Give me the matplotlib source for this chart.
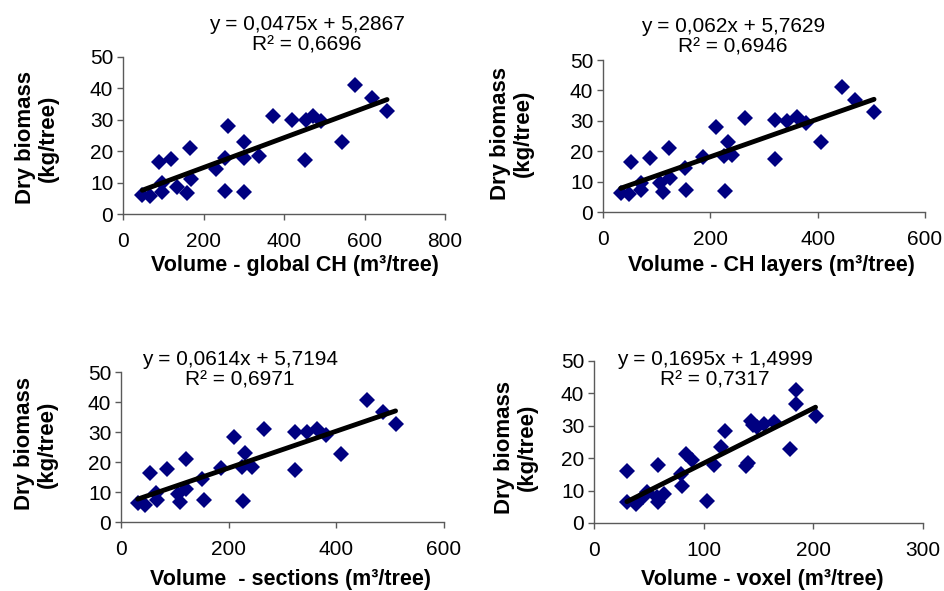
import matplotlib
matplotlib.use("Agg")
import matplotlib.pyplot as plt
import numpy as np

plt.rcParams['font.family'] = ['Liberation Sans', 'DejaVu Sans']

# ---- data ----
x_global = [48, 66, 96, 98, 90, 120, 135, 158, 169, 166, 231, 253, 253, 262, 301, 301, 300, 337,
            373, 420, 452, 455, 471, 492, 544, 577, 618, 656]
y_global = [6.1, 5.7, 7.1, 9.8, 16.5, 17.6, 8.7, 6.6, 11.1, 21.0, 14.3, 17.8, 7.3, 28.1, 17.8, 6.9, 22.9, 18.6,
            31.2, 30.0, 17.3, 30.0, 31.1, 29.6, 22.8, 41.0, 36.9, 32.7]

x_layers = [33, 48, 71, 71, 52, 87, 106, 112, 125, 123, 153, 154, 187, 211, 227, 226, 233, 241,
            265, 321, 321, 342, 362, 378, 407, 445, 470, 505]
y_layers = [6.1, 5.9, 7.2, 9.7, 16.5, 17.8, 9.4, 6.7, 11.1, 21.2, 14.5, 7.4, 18.2, 28.1, 7.0, 18.4, 23.1, 18.7,
            31.0, 30.3, 17.5, 30.0, 31.2, 29.4, 22.9, 41.0, 36.9, 32.8]

x_sections = [31, 44, 67, 65, 54, 85, 105, 110, 121, 120, 150, 155, 186, 210, 227, 225, 231, 244,
              266, 323, 323, 346, 364, 380, 408, 457, 486, 510]
y_sections = [6.2, 5.8, 7.3, 9.8, 16.4, 17.7, 9.5, 6.7, 11.1, 21.0, 14.4, 7.3, 17.9, 28.3, 6.9, 18.3, 22.9, 18.5,
              31.1, 30.0, 17.3, 30.0, 31.1, 29.1, 22.8, 40.6, 36.8, 32.7]

x_voxel = [30, 38, 45, 48, 30, 58, 57, 64, 80, 79, 84, 89, 103, 109, 116, 119, 139, 140,
           143, 145, 149, 155, 164, 179, 184, 184, 202, 58]
y_voxel = [6.6, 5.9, 7.9, 9.5, 16.2, 18.0, 8.1, 9.0, 11.5, 15.0, 21.4, 19.3, 6.9, 18.0, 23.4, 28.3, 17.7, 18.5,
           31.4, 30.1, 29.6, 30.6, 31.1, 22.9, 40.9, 36.8, 32.9, 6.4]

slopes = [0.0475, 0.062, 0.0614, 0.1695]
intercepts = [5.2867, 5.7629, 5.7194, 1.4999]
eq_texts = ["y = 0,0475x + 5,2867\nR² = 0,6696",
            "y = 0,062x + 5,7629\nR² = 0,6946",
            "y = 0,0614x + 5,7194\nR² = 0,6971",
            "y = 0,1695x + 1,4999\nR² = 0,7317"]
x_labels = ["Volume - global CH (m³/tree)", "Volume - CH layers (m³/tree)",
            "Volume  - sections (m³/tree)", "Volume - voxel (m³/tree)"]
y_label = "Dry biomass\n(kg/tree)"
x_maxes = [800, 600, 600, 300]
x_steps = [200, 200, 200, 100]
y_ticks = [0, 10, 20, 30, 40, 50]

xs = [x_global, x_layers, x_sections, x_voxel]
ys = [y_global, y_layers, y_sections, y_voxel]

# ---- layout (pixels) ----
W, H = 944, 591
fig = plt.figure(figsize=(W / 100, H / 100), dpi=100)
fig.patch.set_facecolor('white')

# left, right, top, bottom in pixels
boxes = [(123, 445, 57, 214), (603, 925, 60, 212), (121, 444, 372, 522), (594, 923, 361, 523)]
eq_pos = [(307, 35), (733, 37), (240, 370), (715, 370)]
xl_pos = [(295, 265), (771, 265), (291, 580), (762, 580)]
yl_pos = [(37, 138), (512, 133), (36, 444), (516, 447)]

axis_col = '#5a5a5a'
for i in range(4):
    l, r, t, b = boxes[i]
    ax = fig.add_axes([l / W, (H - b) / H, (r - l) / W, (b - t) / H])
    ax.set_xlim(0, x_maxes[i])
    ax.set_ylim(0, 50)
    ax.set_xticks(np.arange(0, x_maxes[i] + 1, x_steps[i]))
    ax.set_yticks(y_ticks)
    for s in ['top', 'right']:
        ax.spines[s].set_visible(False)
    for s in ['left', 'bottom']:
        ax.spines[s].set_color(axis_col)
        ax.spines[s].set_linewidth(1.0)
    ax.tick_params(axis='x', direction='out', length=4, width=1, color=axis_col,
                   labelsize=15, pad=9, labelcolor='black')
    ax.tick_params(axis='y', direction='out', length=4, width=1, color=axis_col,
                   labelsize=15, pad=3, labelcolor='black')
    ax.set_facecolor('none')
    ax.plot(xs[i], ys[i], linestyle='none', marker='D', markersize=8,
            color='#000080', markeredgewidth=0, clip_on=False, zorder=3)
    xx = np.array([min(xs[i]), max(xs[i])])
    ax.plot(xx, slopes[i] * xx + intercepts[i], color='black', linewidth=3.5,
            solid_capstyle='round', zorder=4)

    ex, ey = eq_pos[i]
    fig.text(ex / W, 1 - ey / H, eq_texts[i], ha='center', va='center',
             fontsize=15, linespacing=1.12)
    lx, ly = xl_pos[i]
    fig.text(lx / W, 1 - ly / H, x_labels[i], ha='center', va='center',
             fontsize=15.5, fontweight='bold')
    yx, yy = yl_pos[i]
    fig.text(yx / W, 1 - yy / H, y_label, ha='center', va='center', rotation=90,
             fontsize=16, fontweight='bold', multialignment='center', linespacing=1.1)

fig.savefig('out.png', dpi=100, facecolor='white')
